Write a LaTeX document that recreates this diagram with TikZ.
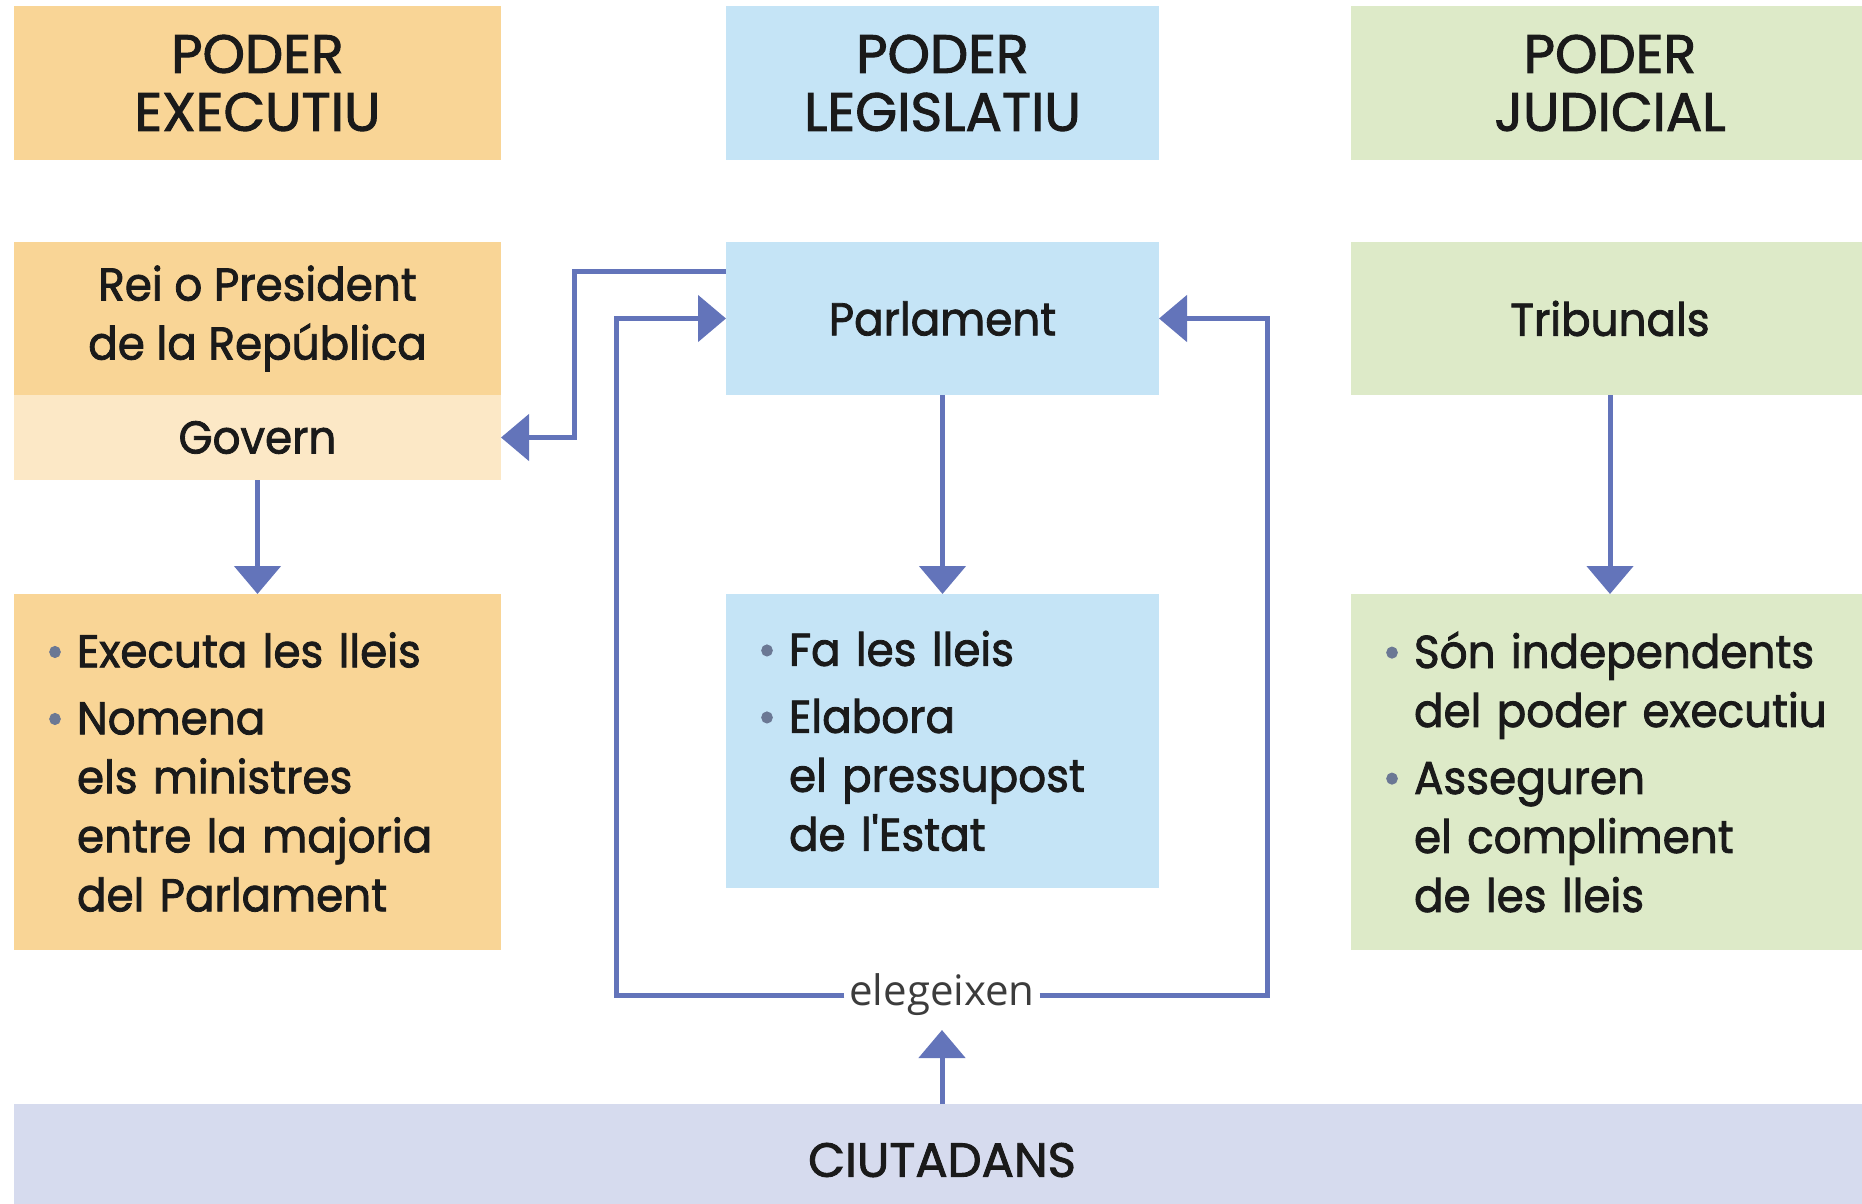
\documentclass[tikz,border=0pt]{standalone}
\usepackage{fontspec}
\setmainfont{Poppins}[FakeStretch=0.95,FakeBold=1.8]
\newfontfamily\capsfont{Poppins}[FakeBold=1.8]
\newfontfamily\votefont{Open Sans}
\usetikzlibrary{arrows.meta}
\usetikzlibrary{positioning}

\definecolor{exeorange}{HTML}{F9D596}
\definecolor{govorange}{HTML}{FCE8C6}
\definecolor{legblue}{HTML}{C5E4F6}
\definecolor{judgreen}{HTML}{DDEAC8}
\definecolor{citlilac}{HTML}{D6DBEE}
\definecolor{linkblue}{HTML}{6374BA}
\definecolor{dotgray}{HTML}{6B7894}
\definecolor{ink}{HTML}{1A1A1A}

\newcommand{\blt}{\makebox[31pt][l]{\textcolor{dotgray}{\textbullet}}}
\newcommand{\cnt}{\hspace*{31pt}}

\begin{document}
\begin{tikzpicture}[->,x=1pt,y=-1pt,>={Triangle[width=46pt,length=28pt]},line width=5pt,color=linkblue]
  \tikzset{every node/.style={inner sep=0pt,outer sep=0pt,text=ink,align=center,font=\fontsize{46}{59}\selectfont}}
  \tikzset{head/.style={font=\capsfont\fontsize{54}{58}\selectfont,minimum height=154pt}}
  \tikzset{power/.style={minimum height=153pt}}
  \tikzset{tasks/.style={align=left,inner xsep=32pt,minimum height=356pt}}
  \useasboundingbox (0,0) rectangle (1862,1203);

  % headers
  \node[head,fill=exeorange,minimum width=487pt,anchor=north west] (exe) at (14,6) {PODER\\EXECUTIU};
  \node[head,fill=legblue,minimum width=433pt,right=225pt of exe] (leg) {PODER\\LEGISLATIU};
  \node[head,fill=judgreen,minimum width=518pt,right=192pt of leg] (jud) {PODER\\JUDICIAL};

  % institutions
  \node[power,fill=exeorange,minimum width=487pt,below=82pt of exe] (rei) {Rei o President\\de la República};
  \node[fill=govorange,minimum width=487pt,minimum height=85pt,below=0pt of rei] (gov) {Govern};
  \node[power,fill=legblue,minimum width=433pt,below=82pt of leg] (parl) {Parlament};
  \node[power,fill=judgreen,minimum width=518pt,below=82pt of jud] (trib) {Tribunals};

  % functions
  \node[tasks,fill=exeorange,text width=423pt,below=114pt of gov] (exelist)
    {\blt Executa les lleis\\[8pt]\blt Nomena\\\cnt els ministres\\\cnt entre la majoria\\\cnt del Parlament};
  \node[tasks,fill=legblue,text width=369pt,minimum height=294pt,below=199pt of parl] (parllist)
    {\blt Fa les lleis\\[8pt]\blt Elabora\\\cnt el pressupost\\\cnt de l\textquotesingle Estat};
  \node[tasks,fill=judgreen,text width=454pt,below=199pt of trib] (triblist)
    {\blt Són independents\\\cnt del poder executiu\\[8pt]\blt Asseguren\\\cnt el compliment\\\cnt de les lleis};

  \node[fill=citlilac,minimum width=1856pt,minimum height=112pt,anchor=north west,font=\capsfont\fontsize{48}{52}\selectfont] (cit) at (14,1104) {CIUTADANS};
  \node[fill=white,inner xsep=5pt,font=\votefont\fontsize{42}{46}\selectfont,text=ink!85] (vote) at (942,995) {elegeixen};

  \path (gov) edge (exelist)
        (parl) edge (parllist)
        (trib) edge (triblist);

  \draw ([yshift=-29pt]parl.north west) -- ++(-152,0) |- (gov.east);
  \draw (vote.west) -| ([xshift=-110pt]parl.west) -- (parl.west);
  \draw (vote.east) -| ([xshift=108pt]parl.east) -- (parl.east);
  \draw[shorten >=14pt] (cit) -- (vote);
\end{tikzpicture}
\end{document}
